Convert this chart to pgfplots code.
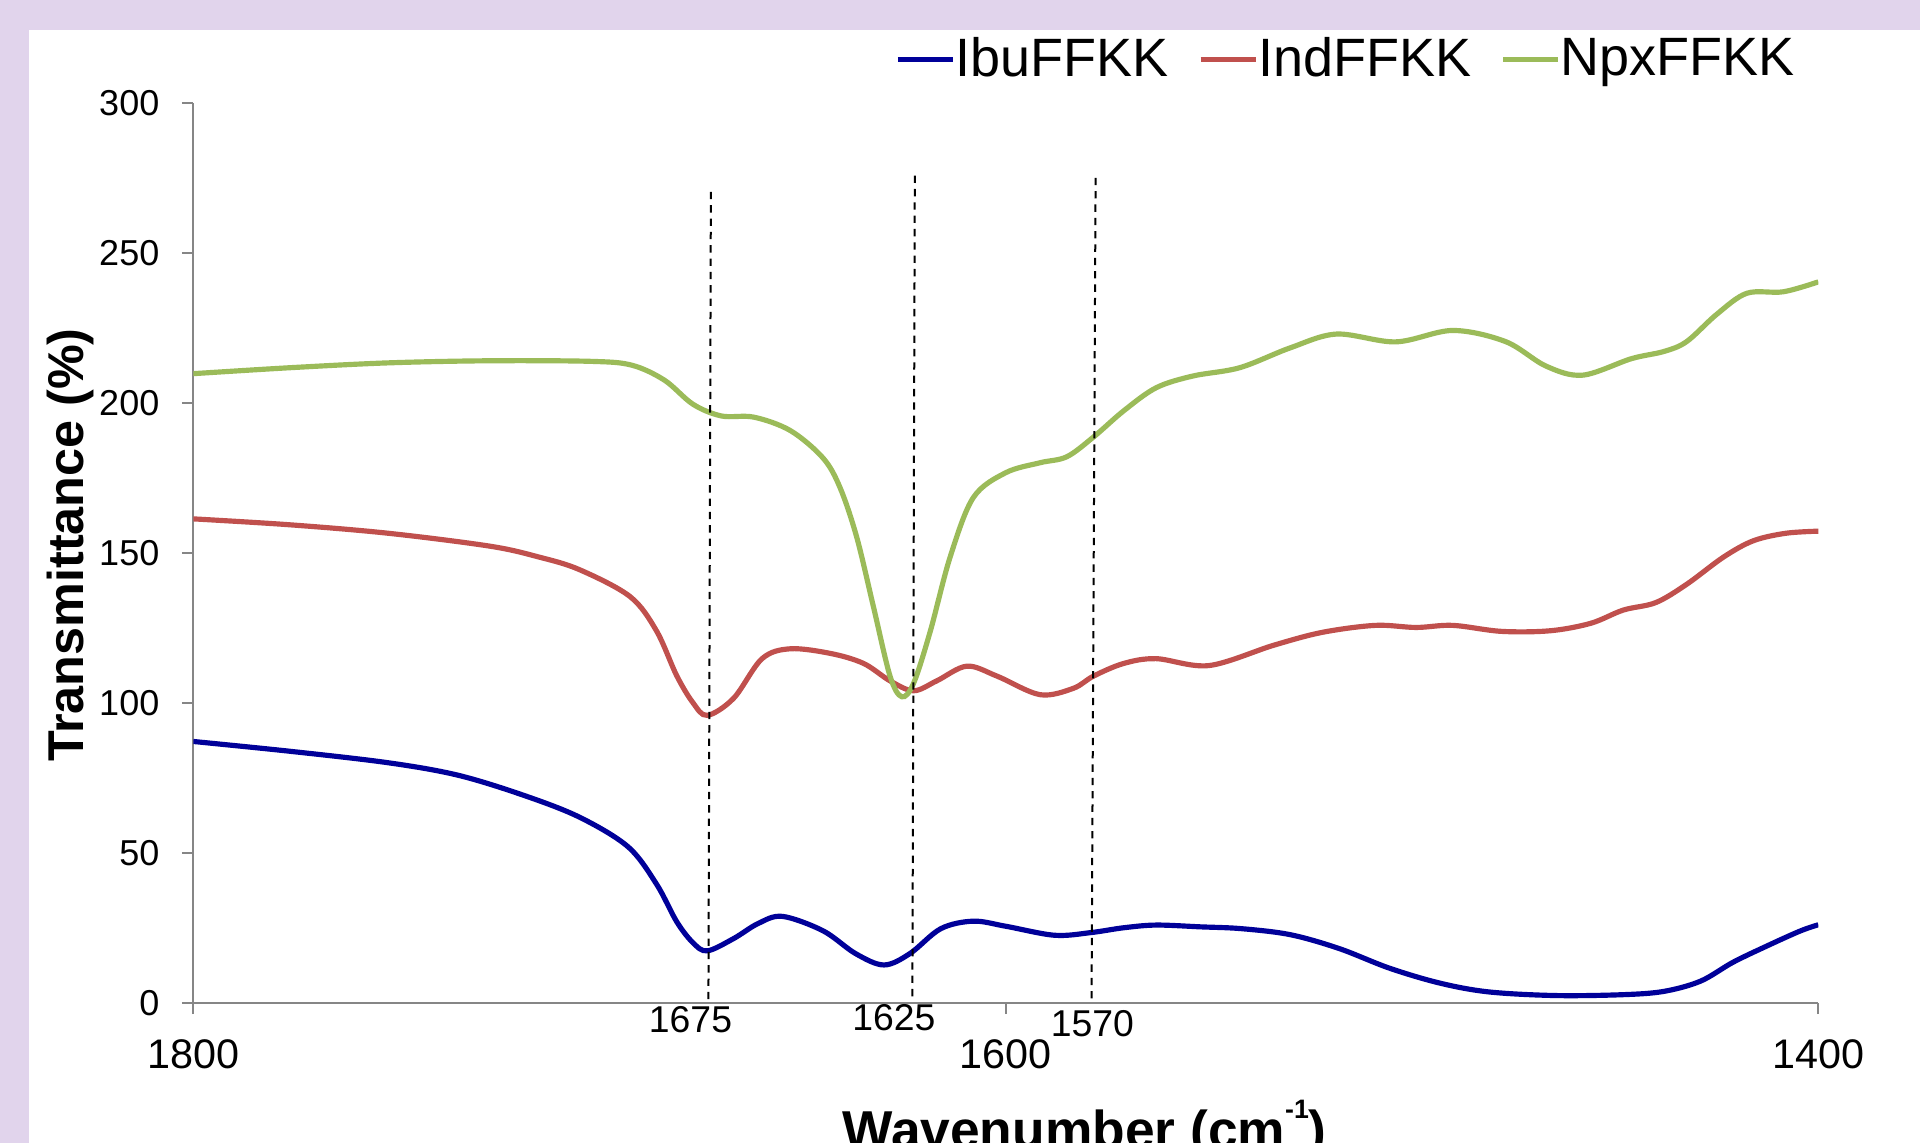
\documentclass[border=0pt]{standalone}
\usepackage{pgfplots}
\pgfplotsset{compat=1.18}
\usepackage{fontspec}
\setmainfont{Liberation Sans}
\definecolor{bgl}{RGB}{225,212,236}
\definecolor{axgray}{RGB}{134,134,134}
\definecolor{sblue}{RGB}{0,0,153}
\definecolor{sred}{RGB}{192,80,77}
\definecolor{sgreen}{RGB}{155,187,89}

\begin{document}
\begin{tikzpicture}
\useasboundingbox (0,0) rectangle (576pt,342.9pt);
\fill[bgl] (0,0) rectangle (576pt,342.9pt);
\fill[white] (8.7pt,0) rectangle (576pt,333.9pt);
\begin{axis}[
  at={(58pt,42.07pt)}, anchor=south west,
  scale only axis, width=487.5pt, height=270pt,
  xmin=1400, xmax=1800, ymin=0, ymax=300,
  x dir=reverse,
  axis x line*=bottom, axis y line*=left,
  axis line style={axgray, line width=0.5pt, -},
  xtick={1400,1600,1800}, ytick={0,50,...,300},
  tick align=outside,
  major tick length=3.4pt,
  tick style={axgray, line width=0.5pt},
  /pgf/number format/1000 sep={},
  /pgf/number format/assume math mode=true,
  yticklabel style={font=\fontsize{10.8}{12}\selectfont, inner sep=0pt, xshift=-6.6pt},
  xticklabel style={font=\fontsize{12.4}{14}\selectfont, inner sep=0pt, yshift=-7.5pt},
  legend columns=3,
  legend style={at={(0.432,1.0482)}, anchor=west, draw=none, fill=none,
    font=\fontsize{16.2}{19}\selectfont, inner sep=0pt, outer sep=0pt,
    nodes={inner sep=0pt},
    /tikz/every even column/.append style={column sep=8.9pt},
    /tikz/every odd column/.append style={column sep=0pt}},
  legend image code/.code={\draw[#1, line width=1.5pt] (0pt,0pt) -- (16.5pt,0pt);},
  every axis plot/.append style={line width=1.55pt},
]
\addplot[sblue, smooth, tension=0.55] coordinates {
(1800,87.1) (1776,83.8) (1752,80.0) (1735,75.9) (1719,69.3) (1705,61.9)
(1693,52.0) (1686,39.6) (1681,27.0) (1677,20.0) (1673.5,17.3)
(1667,21.4) (1661,26.4) (1655,28.8) (1645,24.0) (1637,16.4) (1630,12.6)
(1623.6,16.4) (1616,24.7) (1608,27.2) (1600,25.5) (1588,22.5) (1579,23.4)
(1571,25.0) (1563,25.9) (1552,25.3) (1542,24.7) (1530,22.7) (1518,18.1)
(1505.5,11.5) (1493,6.5) (1481,3.6) (1464.5,2.4) (1448,2.7) (1438,3.8)
(1429,7.2) (1421,13.5) (1412.7,18.9) (1404.5,23.9) (1400,26.0)};
\addlegendentry{IbuFFKK}
\addplot[sred, smooth, tension=0.55] coordinates {
(1800,161.3) (1776,159.3) (1752,156.5) (1727,152.2) (1715,148.6) (1705,144.4)
(1692.5,135.4) (1686,124.0) (1681,109.0) (1677,100.0) (1673.5,95.8)
(1667,101.5) (1660,114.7) (1653,118.0) (1643,116.4) (1635,113.1) (1628.5,107.3)
(1622.7,104.0) (1617,107.3) (1609.6,112.2) (1602.2,108.9) (1591.6,102.7)
(1583.4,104.8) (1578.4,108.9) (1571,113.1) (1563,114.7) (1550,112.4)
(1534,119.2) (1522,123.5) (1509,125.8) (1499,125.1) (1490,125.8) (1478,123.8)
(1466,124.0) (1456,126.5) (1448,130.9) (1440,133.4) (1432.4,139.5)
(1423.3,148.6) (1416,154.0) (1408,156.5) (1400,157.2)};
\addlegendentry{IndFFKK}
\addplot[sgreen, smooth, tension=0.55] coordinates {
(1800,209.7) (1776,211.7) (1752,213.3) (1727,214.0) (1702,213.8) (1692,212.5)
(1684,207.5) (1677,199.5) (1670,195.6) (1662,195.2)
(1653,190.7) (1645,181.6) (1640.8,171.7) (1636.7,155.2)
(1632.6,132.1) (1628.5,108.9) (1625.6,102.0) (1622.7,106.5) (1618.6,123.8)
(1613.7,148.6) (1608,168.4) (1600,176.7) (1591.6,180.0) (1585,182.0)
(1578.4,188.6) (1571,197.3) (1563,205.0) (1554,208.9) (1542.4,211.7)
(1530,218.3) (1518.6,222.9) (1504,220.3) (1490,224.1) (1477,220.4) (1467,212.2)
(1458,209.2) (1446,214.7) (1438,217.1) (1432.4,220.4) (1425,229.5)
(1417.6,236.5) (1408.6,237.0) (1400,240.3)};
\addlegendentry{NpxFFKK}
\addplot[black, line width=0.6pt, dash pattern=on 2.2pt off 1.8pt, forget plot] coordinates {(1672.6,270.3) (1673.2,1.2)};
\addplot[black, line width=0.6pt, dash pattern=on 2.2pt off 1.8pt, forget plot] coordinates {(1622.4,275.7) (1623.0,1.5)};
\addplot[black, line width=0.6pt, dash pattern=on 2.2pt off 1.8pt, forget plot] coordinates {(1577.9,275.0) (1578.9,0.6)};
\end{axis}
\node[anchor=north, inner sep=0pt, font=\fontsize{11.2}{13}\selectfont] at (207.15pt,41.1pt) {1675};
\node[anchor=north, inner sep=0pt, font=\fontsize{11.2}{13}\selectfont] at (268.17pt,41.91pt) {1625};
\node[anchor=north, inner sep=0pt, font=\fontsize{11.2}{13}\selectfont] at (327.69pt,40.11pt) {1570};
\node[anchor=base, inner sep=0pt, font=\bfseries\fontsize{16}{19}\selectfont] at (325.4pt,-1.8pt) {Wavenumber (cm\raisebox{9.2pt}{\fontsize{8}{9}\selectfont -1})};
\node[rotate=90, anchor=base, inner sep=0pt, font=\bfseries\fontsize{15.1}{17}\selectfont] at (25pt,179.4pt) {Transmittance (\%)};
\end{tikzpicture}
\end{document}
